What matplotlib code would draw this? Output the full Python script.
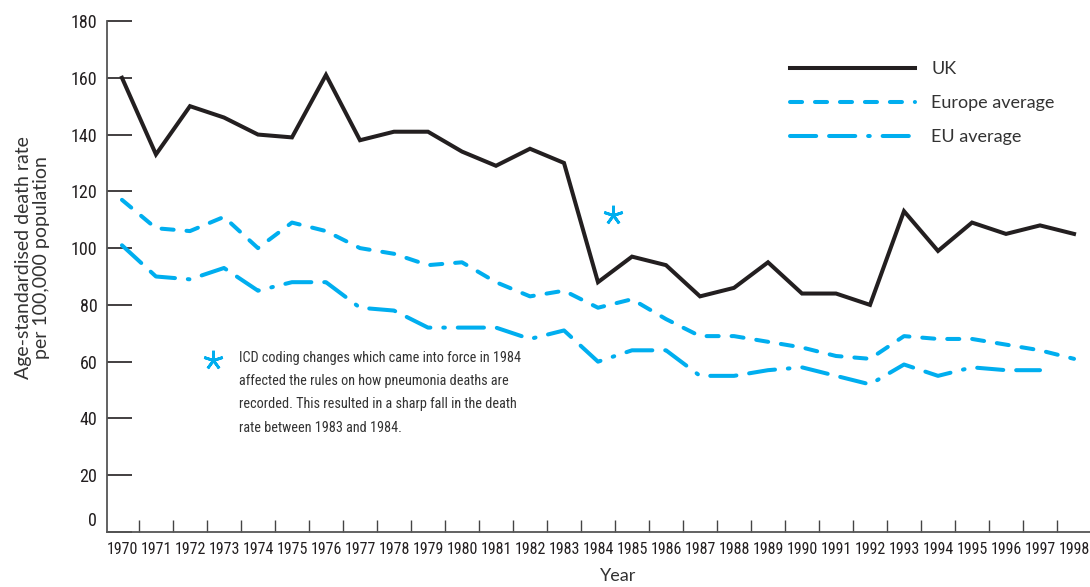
import numpy as np
import matplotlib
matplotlib.use("Agg")
import matplotlib.pyplot as plt

years = np.arange(1970, 1999)
uk = [160, 133, 150, 146, 140, 139, 161, 138, 141, 141, 134, 129, 135, 130,
      88, 97, 94, 83, 86, 95, 84, 84, 80, 113, 99, 109, 105, 108, 105]
europe_avg = [117, 107, 106, 111, 100, 109, 106, 100, 98, 94, 95, 88, 83, 85,
              79, 82, 75, 69, 69, 67, 65, 62, 61, 69, 68, 68, 66, 64, 61]
eu_years = np.arange(1970, 1998)
eu_avg = [101, 90, 89, 93, 85, 88, 88, 79, 78, 72, 72, 72, 68, 71,
          60, 64, 64, 55, 55, 57, 58, 55, 52, 59, 55, 58, 57, 57]

note = ("ICD coding changes which came into force in 1984\n"
        "affected the rules on how pneumonia deaths are\n"
        "recorded. This resulted in a sharp fall in the death\n"
        "rate between 1983 and 1984.")

blue = "#00aeef"
black = "#231f20"
narrow = ["Roboto Condensed", "DejaVu Sans"]

plt.rcParams["font.family"] = ["Lato", "DejaVu Sans"]

fig = plt.figure(figsize=(10.9, 5.87), dpi=100)
ax = fig.add_axes([107 / 1090, 1 - 532 / 587, 1 - 107 / 1090, 511 / 587])

lw = 2.9
ax.plot(years, uk, color=black, lw=lw, solid_joinstyle="miter", label="UK")
ax.plot(years, europe_avg, color=blue, lw=lw, dashes=(3, 3.2),
        dash_capstyle="round", label="Europe average")
ax.plot(eu_years, eu_avg, color=blue, lw=lw,
        dashes=(6.5, 3.2, 6.5, 3.2, 0.4, 3.2),
        dash_capstyle="round", label="EU average")

ax.set_xlim(1969.56, 1998.47)
ax.set_ylim(0, 180)

# asterisk markers
ax.plot([1984.45], [111.5], marker=(5, 2, 0), ms=14, mew=2, color=blue)
ax.plot([1972.68], [60.6], marker=(5, 2, 0), ms=14, mew=2, color=blue)
ax.text(1973.45, 63.6, note, fontsize=10.3, family=narrow, color="#333333",
        va="top", ha="left", linespacing=1.82)

# y axis
ax.set_yticks(np.arange(0, 181, 20))
ax.set_yticklabels([""] + [str(v) for v in range(20, 181, 20)], family=narrow)
ax.tick_params(axis="y", direction="in", length=18, width=1.2, pad=7,
               labelsize=13, colors=black)
ax.annotate("0", xy=(0, 0), xycoords=("axes fraction", "data"),
            xytext=(-10, 11), textcoords="offset pixels",
            ha="right", va="center", fontsize=13, color=black, family=narrow)

# x axis: tick marks between years, labels on years
ax.set_xticks(np.arange(1970.5, 1998.5, 1))
ax.set_xticklabels([])
ax.set_xticks(years, minor=True)
ax.set_xticklabels([str(y) for y in years], minor=True, family=narrow,
                   fontsize=11.5)
ax.tick_params(axis="x", which="major", direction="in", length=8.6,
               width=1.0, colors="#444444")
ax.tick_params(axis="x", which="minor", length=0, pad=7, colors=black)

for s in ["top", "right"]:
    ax.spines[s].set_visible(False)
for s in ["left", "bottom"]:
    ax.spines[s].set_color("#555555")
    ax.spines[s].set_linewidth(1.3)

ax.set_ylabel("Age-standardised death rate\nper 100,000 population",
              fontsize=14, color="#333333", linespacing=1.1)
ax.yaxis.set_label_coords(-0.058, 0.538)
ax.set_xlabel("Year", fontsize=13, color="#333333")
ax.xaxis.set_label_coords(0.52, -0.07)

ax.legend(loc="upper left", bbox_to_anchor=(0.695, 0.921), frameon=False,
          borderpad=0, borderaxespad=0, handlelength=6.9,
          handletextpad=0.9, labelspacing=1.0, fontsize=13,
          labelcolor="#333333")

fig.savefig("out.png", dpi=100)
